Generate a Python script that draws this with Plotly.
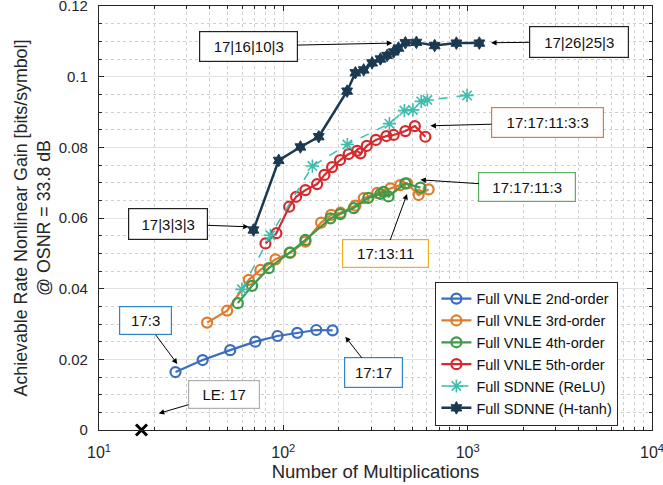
import math
import plotly.graph_objects as go

# Achievable-rate nonlinear gain vs. complexity (number of multiplications)
vnle2_x = [26, 36.5, 51.5, 70.5, 93, 119, 151, 185]
vnle2_y = [0.0164, 0.0198, 0.0226, 0.0250, 0.0266, 0.0275, 0.0283, 0.0282]

vnle3_x = [38.6, 49.6, 64.9, 75.1, 90.6, 109.3, 131.8, 160.3, 181.6, 204, 246, 273,
           323, 381, 431, 469, 542, 614]
vnle3_y = [0.0304, 0.0338, 0.0425, 0.0453, 0.0483, 0.0502, 0.0533, 0.0587, 0.0609,
           0.0615, 0.0635, 0.0656, 0.0671, 0.0684, 0.0693, 0.0698, 0.0665, 0.0681]

vnle4_x = [56.6, 67.7, 83.3, 108.3, 131.8, 180, 204, 241, 289, 336, 350, 372, 459, 554]
vnle4_y = [0.0359, 0.0408, 0.0458, 0.0502, 0.0538, 0.0599, 0.0611, 0.0628, 0.0657,
           0.0668, 0.0674, 0.0661, 0.0698, 0.0686]

vnle5_x = [80, 91.7, 107.6, 117.3, 131.8, 152.5, 167.1, 183.9, 203.2, 226.2, 251.3,
           261.9, 283.4, 317.8, 362.4, 396.8, 459.3, 517.1, 589.5]
vnle5_y = [0.0528, 0.0557, 0.0632, 0.0660, 0.0679, 0.0696, 0.0722, 0.0744, 0.0764,
           0.0781, 0.0790, 0.0783, 0.0804, 0.0821, 0.0832, 0.0835, 0.0846, 0.0860, 0.0830]

relu_x = [59.6, 85.1, 143.8, 222.6, 376.2, 453.6, 504.4, 559.6, 604.6, 992.4]
relu_y = [0.0398, 0.0551, 0.0747, 0.0808, 0.0867, 0.0904, 0.0906, 0.0930, 0.0934, 0.0947]

htanh_x = [68.8, 94.4, 123.8, 155.6, 221.8, 246, 272.9, 303.1, 336.3, 365.5, 396.8,
           421, 459.3, 527, 662.2, 868.3, 1157]
htanh_y = [0.0566, 0.0763, 0.0801, 0.0830, 0.0959, 0.1011, 0.1019, 0.1039, 0.1050,
           0.1060, 0.1070, 0.1081, 0.1096, 0.1097, 0.1088, 0.1095, 0.1095]

le_x = [17]
le_y = [0]

x_tick_vals = [10, 100, 1000, 10000]
x_tick_text = ["10<sup>1</sup>", "10<sup>2</sup>", "10<sup>3</sup>", "10<sup>4</sup>"]
y_tick_vals = [0, 0.02, 0.04, 0.06, 0.08, 0.10, 0.12]
y_tick_text = ["0", "0.02", "0.04", "0.06", "0.08", "0.1", "0.12"]

FONT = "Liberation Sans, Arial, Helvetica, sans-serif"

C_BLUE = "#3b6dbf"
C_ORANGE = "#e07b2a"
C_GREEN = "#3d9a4a"
C_RED = "#d42a2e"
C_TEAL = "#3dbdad"
C_NAVY = "#1b3a52"

fig = go.Figure()


def vnle_trace(x, y, color, name):
    return go.Scatter(
        x=x, y=y, mode="lines+markers", name=name,
        line=dict(color=color, width=2.2),
        marker=dict(symbol="circle-open", size=10, color=color, line=dict(width=2.2, color=color)),
    )


fig.add_trace(vnle_trace(vnle2_x, vnle2_y, C_BLUE, "Full VNLE 2nd-order"))
fig.add_trace(vnle_trace(vnle3_x, vnle3_y, C_ORANGE, "Full VNLE 3rd-order"))
fig.add_trace(vnle_trace(vnle4_x, vnle4_y, C_GREEN, "Full VNLE 4th-order"))
fig.add_trace(vnle_trace(vnle5_x, vnle5_y, C_RED, "Full VNLE 5th-order"))
fig.add_trace(go.Scatter(
    x=relu_x, y=relu_y, mode="lines+markers", name="Full SDNNE (ReLU)",
    line=dict(color=C_TEAL, width=1.5, dash="dash"),
    marker=dict(symbol="asterisk-open", size=11, color=C_TEAL, line=dict(width=1.6, color=C_TEAL)),
))
fig.add_trace(go.Scatter(
    x=htanh_x, y=htanh_y, mode="lines+markers", name="Full SDNNE (H-tanh)",
    line=dict(color=C_NAVY, width=2.5),
    marker=dict(symbol="hexagram", size=9.5, color=C_NAVY, line=dict(width=1, color=C_NAVY)),
))
fig.add_trace(go.Scatter(
    x=le_x, y=le_y, mode="markers", showlegend=False, cliponaxis=False,
    marker=dict(symbol="x-thin", size=11, color="black", line=dict(width=3, color="black")),
))

# Annotated configurations: (text, arrow tip x, tip y, box offset dx, dy, border colour, box w, box h)
labels = [
    ("17|16|10|3", 390, 0.1095, -144, 3, "#222222", 99, 31),
    ("17|26|25|3", 1339, 0.1096, 88, -1, "#222222", 100, 32),
    ("17:17:11:3:3", 628, 0.0861, 117, -3, "#e07b3a", 113, 31),
    ("17:17:11:3", 554, 0.0708, 107, 7, "#5aae62", 98, 30),
    ("17:13:11", 469, 0.0668, -22, 60, "#edb120", 87, 29),
    ("17|3|3|3", 64.9, 0.0575, -81, -3, "#222222", 80, 32),
    ("17:3", 26.6, 0.0187, -32, -43, "#2e86c8", 53, 29),
    ("17:17", 217, 0.0264, 28, 36, "#2e86c8", 59, 31),
    ("LE: 17", 21.1, 0.0047, 65, -19, "#b0b0b0", 72, 29),
]
for text, tx, ty, dx, dy, bc, bw, bh in labels:
    fig.add_annotation(
        x=math.log10(tx), y=ty, xref="x", yref="y", text=text,
        showarrow=True, ax=dx, ay=dy, arrowhead=2, arrowsize=1.1, arrowwidth=1,
        arrowcolor="black", standoff=0,
        font=dict(family=FONT, size=15, color="#111111"),
        bgcolor="white", bordercolor=bc, borderwidth=1.2,
        width=bw - 4, height=bh - 4, borderpad=1, align="center", valign="middle",
    )

axis_common = dict(
    showline=True, linecolor="#262626", linewidth=1.2, mirror="allticks",
    ticks="inside", ticklen=5, tickcolor="#262626",
    gridcolor="#e3e3e3", gridwidth=1, zeroline=False, ticklabeloverflow="allow",
    automargin=False,
)

fig.update_xaxes(
    type="log", range=[1, 4], tickvals=x_tick_vals, ticktext=x_tick_text,
    tickfont=dict(family=FONT, size=16, color="#262626"), ticklabelstandoff=8,
    title=dict(text="Number of Multiplications", font=dict(family=FONT, size=18.5, color="#262626"),
               standoff=0),
    minor=dict(dtick="D1", ticks="inside", ticklen=3, tickcolor="#262626",
               showgrid=True, gridcolor="#cfcfcf", griddash="dot", gridwidth=1),
    **axis_common,
)
fig.update_yaxes(
    range=[0, 0.1200001], tickvals=y_tick_vals, ticktext=y_tick_text,
    tickfont=dict(family=FONT, size=15, color="#262626"), ticklabelstandoff=7,
    title=dict(text="Achievable Rate Nonlinear Gain [bits/symbol]<br>@ OSNR = 33.8 dB",
               font=dict(family=FONT, size=17.8, color="#262626"), standoff=3),
    minor=dict(dtick=0.005, ticks="inside", ticklen=3, tickcolor="#262626",
               showgrid=True, gridcolor="#cfcfcf", griddash="dot", gridwidth=1),
    **axis_common,
)

fig.update_layout(
    width=663, height=485,
    margin=dict(l=98.5, r=11.3, t=6, b=55, autoexpand=False),
    paper_bgcolor="white", plot_bgcolor="white",
    font=dict(family=FONT, color="#262626"),
    legend=dict(
        x=0.6083, y=0.3498, xanchor="left", yanchor="top",
        bgcolor="white", bordercolor="#262626", borderwidth=1,
        font=dict(family=FONT, size=14.5, color="#111111"),
        itemwidth=30, tracegroupgap=0,
    ),
)

fig.write_html("out.html")
